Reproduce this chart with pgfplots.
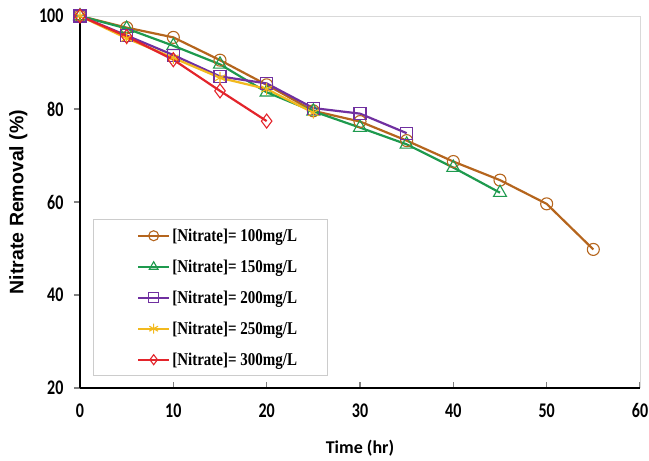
\documentclass[border=0pt]{standalone}
\usepackage{fontspec}
\setmainfont{Carlito}
\newfontfamily\legfont{Liberation Serif}
\newfontfamily\ylabfont{Liberation Sans}
\usepackage{graphicx}
\usepackage{pgfplots}
\pgfplotsset{compat=1.18}
\definecolor{cBrown}{HTML}{B5651D}
\definecolor{cGreen}{HTML}{1E9A4E}
\definecolor{cPurple}{HTML}{7030A0}
\definecolor{cYellow}{HTML}{F2B91E}
\definecolor{cRed}{HTML}{E3242B}
\newcommand{\legtxt}[1]{\scalebox{1}[1.2]{#1}}

\begin{document}
\begin{tikzpicture}
\begin{axis}[
  scale only axis, width=560pt, height=372pt,
  xmin=0, xmax=60, ymin=20, ymax=100,
  xtick={0,10,...,60}, ytick={20,40,...,100},
  axis x line=bottom, axis y line=left,
  axis line style={line width=1.6pt, -},
  x tick style={line width=1.3pt}, y tick style={line width=1.3pt},
  xtick align=inside, ytick align=outside, major tick length=6pt,
  /pgf/number format/assume math mode=true,
  tick label style={font=\fontsize{16}{16}\selectfont\bfseries},
  xticklabel={\scalebox{1}[1.3]{\pgfmathprintnumber{\tick}}},
  yticklabel={\scalebox{1}[1.3]{\pgfmathprintnumber{\tick}}},
  xticklabel style={yshift=-12pt}, yticklabel style={xshift=-7pt},
  xlabel={Time (hr)}, xlabel style={font=\fontsize{18}{18}\selectfont\bfseries,
    at={(axis description cs:0.5,-0.161)}, anchor=center},
  ylabel={Nitrate Removal (\%)}, ylabel style={font=\fontsize{19.5}{19.5}\selectfont\ylabfont\bfseries,
    at={(axis description cs:-0.11,0.5)}, anchor=center},
  every axis plot/.append style={line width=2.2pt, mark size=6pt, mark options={fill=white, solid, line width=1.1pt}},
  legend style={at={(0.023,0.032)}, anchor=south west, draw=gray!40, line width=0.8pt,
    font=\fontsize{15}{15}\selectfont\legfont\bfseries, inner xsep=28pt, inner ysep=7pt,
    row sep=13pt, legend cell align=left},
  legend image code/.code={\path (-0.55cm,0cm);
    \draw[mark repeat=2, mark phase=2, mark size=5pt, line width=2pt] plot coordinates {(0cm,0cm) (0.55cm,0cm) (1.1cm,0cm)};},
  clip=false,
]
\addplot[cBrown, mark=o] coordinates {(0,100) (5,97.5) (10,95.4) (15,90.5) (20,85.2) (25,79.6) (30,77.3) (35,73.2) (40,68.7) (45,64.7) (50,59.6) (55,49.8)};
\addlegendentry{\legtxt{{[}Nitrate{]}= 100mg/L}}
\addplot[cGreen, mark=triangle, mark size=7.5pt] coordinates {(0,100) (5,97.3) (10,93.6) (15,89.6) (20,83.6) (25,79.5) (30,76.0) (35,72.4) (40,67.4) (45,62.0)};
\addlegendentry{\legtxt{{[}Nitrate{]}= 150mg/L}}
\addplot[cPurple, mark=square] coordinates {(0,100) (5,95.8) (10,91.6) (15,87.0) (20,85.5) (25,80.2) (30,79.0) (35,74.8)};
\addlegendentry{\legtxt{{[}Nitrate{]}= 200mg/L}}
\addplot[cYellow, mark=asterisk] coordinates {(0,100) (5,95.2) (10,91.0) (15,86.7) (20,84.3) (25,79.2)};
\addlegendentry{\legtxt{{[}Nitrate{]}= 250mg/L}}
\addplot[cRed, mark=diamond, mark size=7pt] coordinates {(0,100) (5,95.6) (10,90.6) (15,83.9) (20,77.4)};
\addlegendentry{\legtxt{{[}Nitrate{]}= 300mg/L}}
\draw[gray!30, line width=0.8pt] (rel axis cs:0,1) -- (rel axis cs:1,1) -- (rel axis cs:1,0);
\end{axis}
\pgfresetboundingbox
\path ([xshift=-80pt,yshift=-73pt]current axis.south west) rectangle ([xshift=9pt,yshift=16pt]current axis.north east);
\end{tikzpicture}
\end{document}
